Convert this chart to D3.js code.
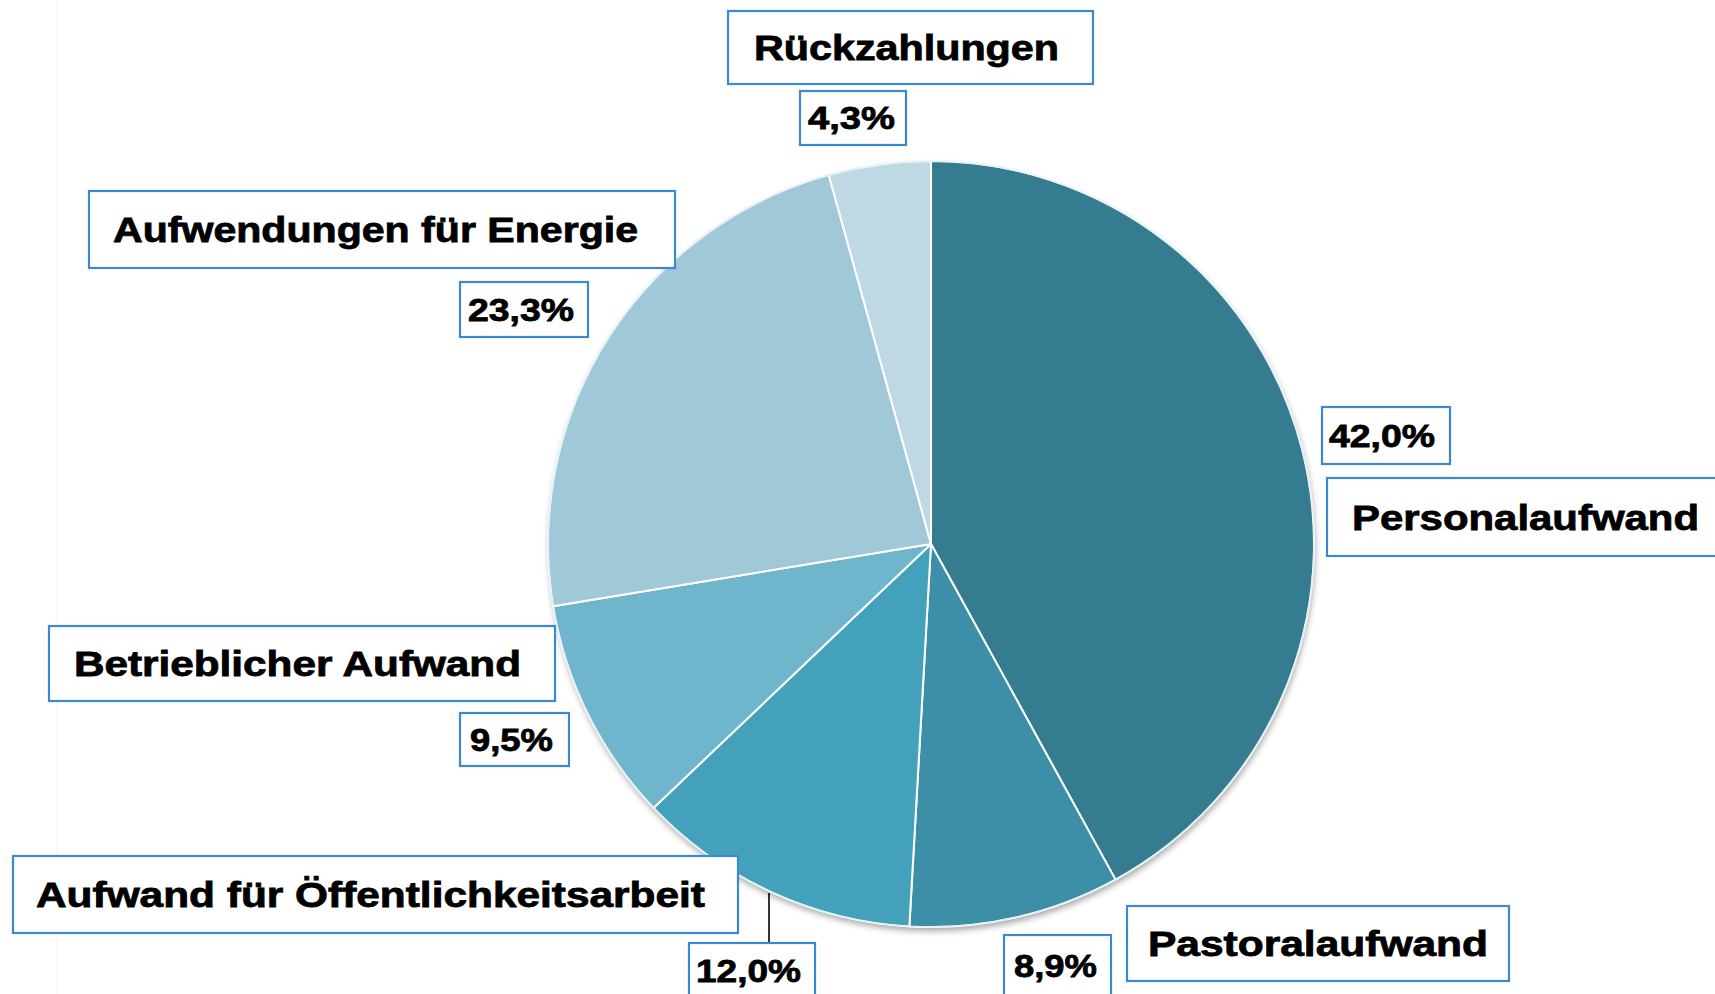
<!DOCTYPE html>
<html>
<head>
<meta charset="utf-8">
<script src="https://cdn.jsdelivr.net/npm/d3@7"></script>
<style>
  body { margin: 0; background: #fff; }
  svg { display: block; }
</style>
</head>
<body>
<svg id="chart" width="1715" height="994"></svg>
<script>
// data (clockwise from 12 o'clock)
var categories = ["Personalaufwand", "Pastoralaufwand", "Aufwand für Öffentlichkeitsarbeit",
	"Betrieblicher Aufwand", "Aufwendungen für Energie", "Rückzahlungen"];
var values = [42.0, 8.9, 12.0, 9.5, 23.3, 4.3];
var pctLabels = ["42,0%", "8,9%", "12,0%", "9,5%", "23,3%", "4,3%"];
var colors = ["#367c91", "#3d8fa7", "#44a1bb", "#6fb5cc", "#a0c8d9", "#bed9e4"];

// label layout: [x, y, w, h] of the box, then [text x, text width]
var nameBoxes = [[1327, 478, 420, 78], [1127, 906, 382, 75], [13, 856, 725, 77],
	[49, 626, 506, 75], [89, 191, 586, 77], [728, 11, 365, 73]];
var nameText = [[1352, 347], [1148, 340], [36, 669], [74, 447], [113, 525], [754, 305]];
var pctBoxes = [[1322, 407, 128, 57], [1004, 935, 107, 62], [689, 943, 126, 56],
	[460, 713, 109, 53], [460, 282, 128, 55], [800, 91, 106, 54]];
var pctText = [[1329, 106], [1014, 83], [696, 105], [470, 83], [468, 106], [808, 87]];

var svg = d3.select("#chart"),
	cx = 931,
	cy = 544,
	radius = 383;

var defs = svg.append("defs");
var f = defs.append("filter").attr("id", "shadow")
	.attr("x", "-10%").attr("y", "-10%").attr("width", "120%").attr("height", "120%");
f.append("feDropShadow")
	.attr("dx", 1).attr("dy", 4).attr("stdDeviation", 3)
	.attr("flood-color", "#000").attr("flood-opacity", 0.35);

// faint artefact line at the left
svg.append("line")
	.attr("x1", 57).attr("x2", 57).attr("y1", 0).attr("y2", 994)
	.attr("stroke", "#f3f3f3").attr("stroke-width", 1);

var g = svg.append("g")
	.attr("transform", "translate(" + cx + "," + cy + ")");

// shadow disc below the pie
g.append("circle")
	.attr("r", radius)
	.attr("fill", "#fff")
	.attr("filter", "url(#shadow)");

var pie = d3.pie().sort(null).value(function(d) { return d; });
var arc = d3.arc().innerRadius(0).outerRadius(radius);

g.selectAll("path.slice")
	.data(pie(values))
	.enter().append("path")
		.attr("class", "slice")
		.attr("d", arc)
		.attr("fill", function(d, i) { return colors[i]; })
		.attr("stroke", "#ffffff")
		.attr("stroke-width", 2)
		.attr("stroke-linejoin", "round");

// thin light rim
g.append("circle")
	.attr("r", radius)
	.attr("fill", "none")
	.attr("stroke", "#e4f0f4")
	.attr("stroke-width", 1.5);

// leader line for 12,0%
var lx = 769;
var ly = cy + Math.sqrt(radius * radius - (lx - cx) * (lx - cx));
svg.append("line")
	.attr("x1", lx).attr("x2", lx)
	.attr("y1", ly + 2).attr("y2", pctBoxes[2][1])
	.attr("stroke", "#000").attr("stroke-width", 1.6);

function drawBoxes(boxes, texts, labels, fontSize, cls) {
	var lab = svg.selectAll("g." + cls)
		.data(labels)
		.enter().append("g")
		.attr("class", cls);
	lab.append("rect")
		.attr("x", function(d, i) { return boxes[i][0]; })
		.attr("y", function(d, i) { return boxes[i][1]; })
		.attr("width", function(d, i) { return boxes[i][2]; })
		.attr("height", function(d, i) { return boxes[i][3] + (boxes[i][1] + boxes[i][3] > 990 ? 20 : 0); })
		.attr("fill", "#fff")
		.attr("stroke", "#3b89d2")
		.attr("stroke-width", 2.2);
	lab.append("text")
		.attr("x", function(d, i) { return texts[i][0]; })
		.attr("y", function(d, i) { return boxes[i][1] + boxes[i][3] / 2 + fontSize * 0.358; })
		.attr("textLength", function(d, i) { return texts[i][1]; })
		.attr("lengthAdjust", "spacingAndGlyphs")
		.attr("font-family", "'Liberation Sans', Arial, sans-serif")
		.attr("font-weight", "bold")
		.attr("font-size", fontSize)
		.attr("fill", "#000")
		.attr("stroke", "#000")
		.attr("stroke-width", 0.8)
		.text(function(d) { return d; });
}

drawBoxes(nameBoxes, nameText, categories, 35, "name-label");
drawBoxes(pctBoxes, pctText, pctLabels, 32, "pct-label");
</script>
</body>
</html>
